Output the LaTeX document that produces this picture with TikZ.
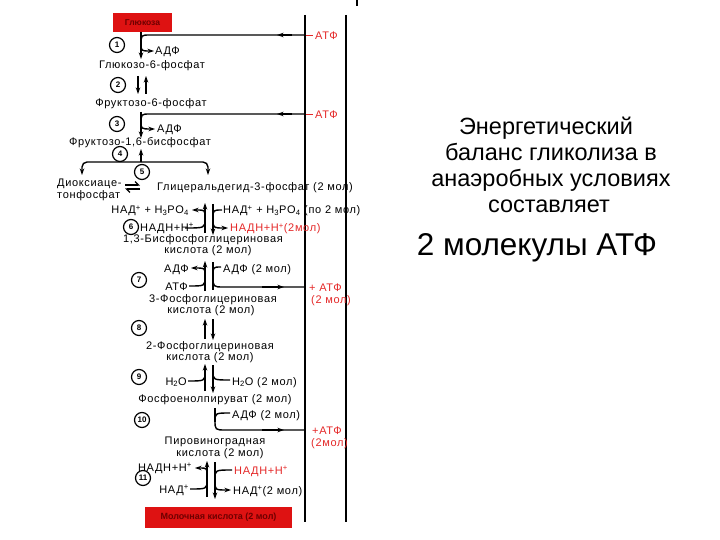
\documentclass[tikz,border=0pt]{standalone}
\usepackage{fontspec}
\setmainfont{Liberation Sans}
\newfontfamily\diag[LetterSpace=6]{Liberation Sans}
\usetikzlibrary{arrows.meta}
\definecolor{boxred}{RGB}{222,18,18}
\definecolor{txtred}{RGB}{228,40,40}
\definecolor{boxtxt}{RGB}{110,0,0}
\begin{document}
\begin{tikzpicture}[x=1pt,y=-1pt,
  lbl/.style={font=\diag\fontsize{11}{13}\selectfont, inner sep=0pt},
  rlbl/.style={lbl, text=txtred},
  num/.style={draw, circle, line width=1.2pt, minimum size=15pt, inner sep=0pt, font=\bfseries\fontsize{8}{9}\selectfont},
  ln/.style={line width=1.4pt},
  arr/.style={ln, -{Stealth[length=6.5pt,width=4.5pt]}},
  rail/.style={line width=1.9pt},
  bigtxt/.style={font=\fontsize{23.5}{28}\selectfont, inner sep=0pt, anchor=base},
  boxnode/.style={fill=boxred, inner sep=0pt, font=\bfseries\fontsize{8.5}{9}\selectfont, text=boxtxt},
]
\useasboundingbox (0,0) rectangle (720,540);

% rails
\coordinate (L1t) at (305,15); \coordinate (L1b) at (305,522);
\coordinate (L2t) at (346,15); \coordinate (L2b) at (346,522);
\draw[rail] (L1t) -- (L1b);
\draw[rail] (L2t) -- (L2b);
\coordinate (mk1) at (357,0); \coordinate (mk2) at (357,6);
\draw[line width=2pt] (mk1) -- (mk2);

% top box
\node[boxnode, minimum width=59pt, minimum height=19pt] (gluc) at (142.5,22.5) {Глюкоза};

% step 1
\node[num] (c1) at (117,45) {1};
\coordinate (v1a) at (141,32); \coordinate (v1b) at (141,59);
\draw[arr] (gluc.south -| v1a) -- (v1b);
\coordinate (a1) at (305,35);
\draw[ln] (a1) -- (150,35) .. controls (141,35) .. (141,45);
\draw[arr] (292,35) -- (277,35);
\draw[txtred, line width=1pt] (306,36) -- (313,36);
\node[rlbl, anchor=base west] (atf1) at (315,40) {АТФ};
\draw[arr] (141,43) .. controls (141,51) .. (154,51);
\node[lbl, anchor=base west] (adf1) at (155,55) {АДФ};
\node[lbl, anchor=base] (g6p) at (152,69) {Глюкозо-6-фосфат};

% step 2
\node[num] (c2) at (118,85) {2};
\draw[arr] (138,76) -- (138,94);
\draw[arr] (146,94) -- (146,76);
\node[lbl, anchor=base] (f6p) at (151,107) {Фруктозо-6-фосфат};

% step 3
\node[num] (c3) at (117,124) {3};
\draw[arr] (141,112) -- (141,138);
\coordinate (a3) at (305,114);
\draw[ln] (a3) -- (150,114) .. controls (141,114) .. (141,124);
\draw[arr] (292,114) -- (277,114);
\draw[txtred, line width=1pt] (306,115) -- (313,115);
\node[rlbl, anchor=base west] (atf3) at (315,119) {АТФ};
\draw[arr] (141,121) .. controls (141,129) .. (155,129);
\node[lbl, anchor=base west] (adf3) at (157,133) {АДФ};
\node[lbl, anchor=base] (f16) at (140,146) {Фруктозо-1,6-бисфосфат};

% step 4
\node[num] (c4) at (120,154) {4};
\coordinate (br) at (141,162);
\draw[arr] (br) -- (141,149);
\draw[arr, rounded corners=5pt] (br) -- (82,162) -- (82,175);
\draw[arr, rounded corners=5pt] (br) -- (208,162) -- (208,175);

% step 5
\node[num] (c5) at (142,172) {5};
\node[lbl, anchor=base west] (dhap1) at (57,187) {Диоксиаце-};
\node[lbl, anchor=base west] (dhap2) at (57,199) {тонфосфат};
\draw[line width=1.2pt, -{Straight Barb[left,length=3.5pt]}] (125,185) -- (140,185);
\draw[line width=1.2pt, -{Straight Barb[left,length=3.5pt]}] (140,189) -- (125,189);
\node[lbl, anchor=base west] (g3p) at (157,191) {Глицеральдегид-3-фосфат (2 мол)};

% step 6
\node[num] (c6) at (131,227) {6};
\draw[arr] (205,233) -- (205,203);
\draw[arr] (213,204) -- (213,235);
\draw[arr] (205,217) .. controls (205,210) .. (192,210);
\draw[ln] (185,228) .. controls (205,228) .. (205,219);
\draw[ln] (222,210) .. controls (213,210) .. (213,219);
\draw[arr] (213,219) .. controls (213,228) .. (228,228);
\node[lbl, anchor=base east] (nad6l) at (189,214) {НАД\textsuperscript{+} + H\textsubscript{3}PO\textsubscript{4}};
\node[lbl, anchor=base west] (nadh6l) at (140,231) {НАДН+Н\textsuperscript{+}};
\node[lbl, anchor=base west] (nad6r) at (223,214) {НАД\textsuperscript{+} + H\textsubscript{3}PO\textsubscript{4} (по 2 мол)};
\node[rlbl, anchor=base west] (nadh6r) at (230,232) {НАДН+Н\textsuperscript{+}(2мол)};
\node[lbl, anchor=base] (bpg1) at (203,242) {1,3-Бисфосфоглицериновая};
\node[lbl, anchor=base] (bpg2) at (208,253) {кислота (2 мол)};

% step 7
\node[num] (c7) at (139,280) {7};
\draw[arr] (205,291) -- (205,261);
\draw[ln] (213,262) -- (213,290);
\draw[arr] (205,275) .. controls (205,268) .. (191,268);
\draw[ln] (189,286) .. controls (205,286) .. (205,277);
\draw[ln] (221,267) .. controls (213,267) .. (213,276);
\coordinate (a7) at (305,287);
\draw[ln] (213,276) .. controls (213,287) .. (224,287) -- (a7);
\draw[arr] (262,287) -- (284,287);
\node[lbl, anchor=base east] (adf7l) at (189,272) {АДФ};
\node[lbl, anchor=base east] (atf7l) at (188,290) {АТФ};
\node[lbl, anchor=base west] (adf7r) at (223,272) {АДФ (2 мол)};
\node[rlbl, anchor=base west] (atf7) at (309,291) {+ АТФ};
\node[rlbl, anchor=base west] (atf7m) at (311,303) {(2 мол)};
\node[lbl, anchor=base] (pg3a) at (213,302) {3-Фосфоглицериновая};
\node[lbl, anchor=base] (pg3b) at (211,313) {кислота (2 мол)};

% step 8
\node[num] (c8) at (139,328) {8};
\draw[arr] (205,339) -- (205,319);
\draw[arr] (213,319) -- (213,340);
\node[lbl, anchor=base] (pg2a) at (210,349) {2-Фосфоглицериновая};
\node[lbl, anchor=base] (pg2b) at (210,360) {кислота (2 мол)};

% step 9
\node[num] (c9) at (139,377) {9};
\draw[arr] (205,391) -- (205,364);
\draw[arr] (213,365) -- (213,393);
\draw[ln] (188,381) .. controls (205,381) .. (205,372);
\draw[ln] (213,371) .. controls (213,380) .. (230,380);
\node[lbl, anchor=base east] (h2ol) at (187,385) {H\textsubscript{2}O};
\node[lbl, anchor=base west] (h2or) at (232,385) {H\textsubscript{2}O (2 мол)};
\node[lbl, anchor=base] (pep) at (215,402) {Фосфоенолпируват (2 мол)};

% step 10
\node[num] (c10) at (142,420) {10};
\draw[ln] (215,408) -- (215,422);
\draw[ln] (230,413) .. controls (215,413) .. (215,422);
\coordinate (a10) at (305,430);
\draw[ln] (215,420) .. controls (215,430) .. (226,430) -- (a10);
\draw[arr] (262,430) -- (284,430);
\node[lbl, anchor=base west] (adf10) at (232,418) {АДФ (2 мол)};
\node[rlbl, anchor=base west] (atf10) at (312,434) {+АТФ};
\node[rlbl, anchor=base west] (atf10m) at (311,446) {(2мол)};
\node[lbl, anchor=base] (pyr1) at (215,444) {Пировиноградная};
\node[lbl, anchor=base] (pyr2) at (220,456) {кислота (2 мол)};

% step 11
\node[num] (c11) at (143,478) {11};
\draw[arr] (207,497) -- (207,461);
\draw[arr] (215,462) -- (215,499);
\draw[arr] (207,475) .. controls (207,468) .. (195,468);
\draw[ln] (190,489) .. controls (207,489) .. (207,480);
\draw[ln] (232,470) .. controls (215,470) .. (215,479);
\draw[arr] (215,481) .. controls (215,490) .. (231,490);
\node[lbl, anchor=base east] (nadh11l) at (192,471) {НАДН+Н\textsuperscript{+}};
\node[lbl, anchor=base east] (nad11l) at (189,493) {НАД\textsuperscript{+}};
\node[rlbl, anchor=base west] (nadh11r) at (234,474) {НАДН+Н\textsuperscript{+}};
\node[lbl, anchor=base west] (nad11r) at (233,494) {НАД\textsuperscript{+}(2 мол)};

% bottom box
\node[boxnode, minimum width=147pt, minimum height=21pt, font=\bfseries\fontsize{9}{10}\selectfont] (lact) at (218.5,517.5) {Молочная кислота (2 мол)};

% right text
\node[bigtxt] (t1) at (546,135) {Энергетический};
\node[bigtxt] (t2) at (551,161) {баланс гликолиза в};
\node[bigtxt] (t3) at (551,187) {анаэробных условиях};
\node[bigtxt] (t4) at (549,212) {составляет};
\node[bigtxt, font=\fontsize{31.5}{36}\selectfont] (t5) at (537,255) {2 молекулы АТФ};
\end{tikzpicture}
\end{document}
